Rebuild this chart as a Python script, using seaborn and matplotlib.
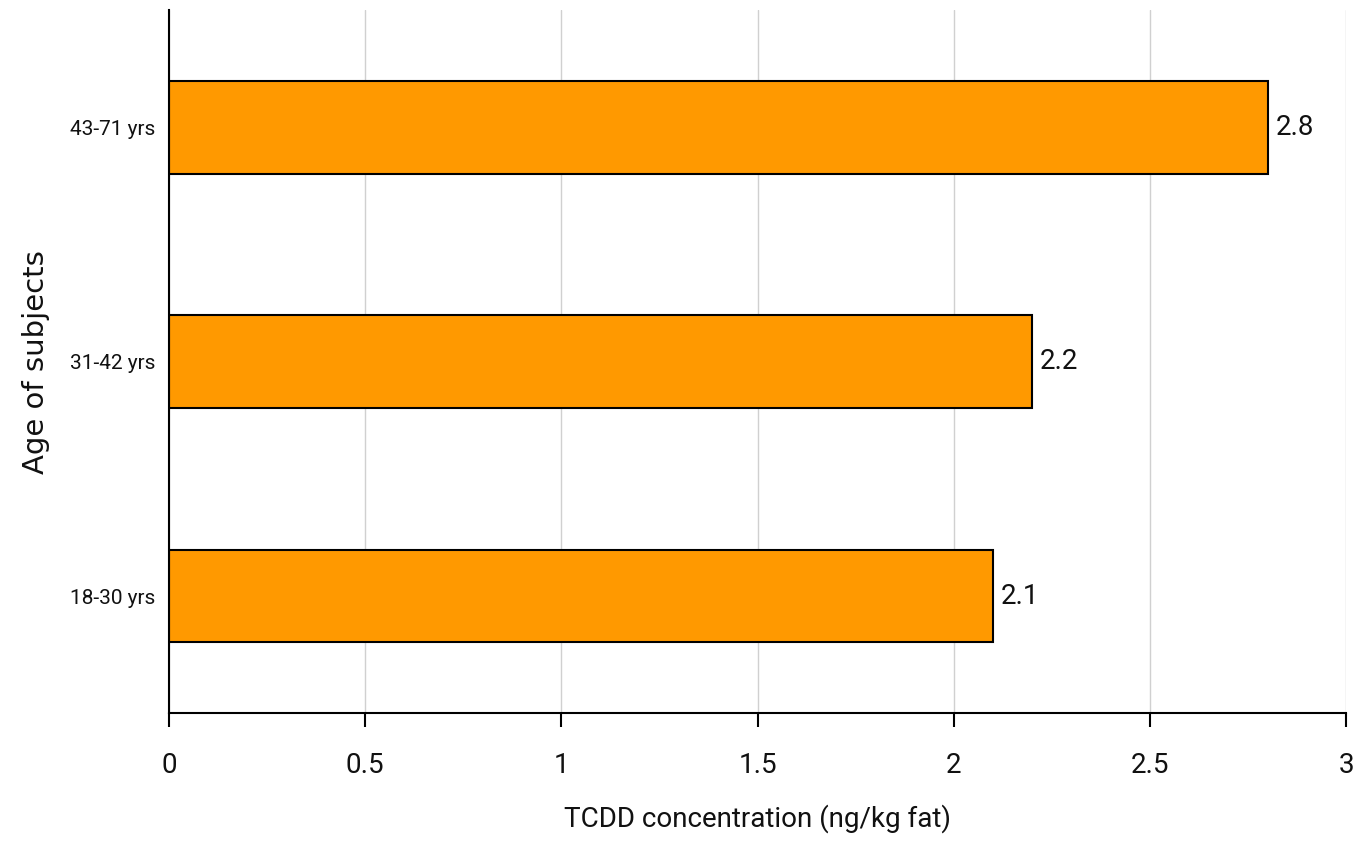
import pandas as pd
import seaborn as sns
import matplotlib.pyplot as plt
import matplotlib.ticker as ticker
from matplotlib import font_manager

# dados do gráfico
faixas = ['43-71 yrs', '31-42 yrs', '18-30 yrs']
valores = [2.8, 2.2, 2.1]
rotulos = ['2.8', '2.2', '2.1']

dados = pd.DataFrame({'faixa': faixas, 'tcdd': valores})

sns.set_theme(style='white', rc={"figure.figsize": (13.58, 8.47)})

nomes = {f.name for f in font_manager.fontManager.ttflist}
fonte = 'Liberation Sans Narrow' if 'Liberation Sans Narrow' in nomes else 'Roboto'
plt.rcParams['font.family'] = [fonte, 'DejaVu Sans']
plt.rcParams['text.color'] = 'black'
plt.rcParams['axes.labelcolor'] = 'black'
plt.rcParams['xtick.color'] = 'black'
plt.rcParams['ytick.color'] = 'black'

fig, ax = plt.subplots(dpi=100)
fig.subplots_adjust(left=0.1245, right=0.9912, top=0.988, bottom=0.158)

sns.barplot(data=dados, x='tcdd', y='faixa', color='#FF9900', saturation=1,
            edgecolor='black', linewidth=1.5, width=0.395, ax=ax)

ax.set_xlim(0, 3)
ax.xaxis.set_major_locator(ticker.MultipleLocator(0.5))
ax.xaxis.set_major_formatter(ticker.FuncFormatter(lambda x, p: f'{x:g}'))
ax.grid(axis='x', color='#d0d0d0', linewidth=1)
ax.set_axisbelow(True)

for lado in ['top', 'right']:
    ax.spines[lado].set_visible(False)
ax.spines['left'].set_color('black')
ax.spines['bottom'].set_color('black')
ax.spines['left'].set_linewidth(1.5)
ax.spines['bottom'].set_linewidth(1.5)

ax.tick_params(axis='x', direction='out', length=10, width=1.5, color='black',
               labelsize=20, pad=18, bottom=True, labelcolor='#111111')
ax.tick_params(axis='y', length=0, labelsize=15, pad=10, labelcolor='#111111')

# rótulos de valor no fim das barras
for barra, texto in zip(ax.patches, rotulos):
    ax.text(barra.get_width() + 0.02, barra.get_y() + barra.get_height() / 2,
            texto, va='center', ha='left', fontsize=20, color='#111111')

ax.set_xlabel('TCDD concentration (ng/kg fat)', fontsize=20, labelpad=18, color='#111111')
ax.set_ylabel('Age of subjects', fontsize=21, labelpad=14, color='#111111',
              family=['DejaVu Sans'])

fig.savefig('out.png', dpi=100)
